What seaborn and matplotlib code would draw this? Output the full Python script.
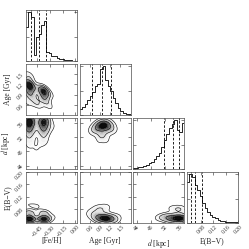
import numpy as np
import pandas as pd
import seaborn as sns
import matplotlib.pyplot as plt

sns.set_style("ticks")
plt.rcParams['font.family'] = ['Liberation Serif', 'DejaVu Serif']
plt.rcParams['mathtext.fontset'] = 'stix'

# --- parameters -----------------------------------------------------------
labels = ["[Fe/H]", "Age [Gyr]", "$d$ [kpc]", "E(B\u2212V)"]
ranges = [(-0.58, 0.02), (0.3, 1.8), (43.0, 57.5), (0.035, 0.20)]
ticks = [[-0.45, -0.30, -0.15, 0.00],
         [0.6, 0.9, 1.2, 1.5],
         [44, 48, 52, 56],
         [0.08, 0.12, 0.16, 0.20]]

# 1D marginal histograms (20 bins across each range), relative heights
feh_counts = [0.70, 1.00, 0.90, 0.12, 0.50, 0.55, 0.75, 0.82, 0.20, 0.18,
              0.10, 0.10, 0.06, 0.05, 0.04, 0.03, 0.03, 0.02, 0.01, 0.01]
age_counts = [0.13, 0.17, 0.23, 0.32, 0.40, 0.47, 0.60, 0.64, 0.94, 1.00,
              0.72, 0.60, 0.50, 0.36, 0.25, 0.15, 0.09, 0.05, 0.03, 0.02]
dist_counts = [0.03, 0.03, 0.04, 0.05, 0.07, 0.09, 0.12, 0.15, 0.20, 0.27,
               0.33, 0.45, 0.60, 0.72, 0.85, 0.92, 1.00, 0.80, 0.75, 0.95]
ebv_counts = [0.85, 1.00, 0.95, 0.78, 0.68, 0.55, 0.42, 0.30, 0.22, 0.17,
              0.12, 0.10, 0.07, 0.05, 0.04, 0.03, 0.03, 0.02, 0.02, 0.02]
hist_counts = [feh_counts, age_counts, dist_counts, ebv_counts]

# 16/50/84 percent quantiles
quantiles = [[-0.525, -0.43, -0.345],
             [0.65, 0.96, 1.22],
             [51.6, 54.2, 56.1],
             [0.047, 0.060, 0.085]]

# 2D posterior clumps: (x, y, weight) for each panel
feh_age_x = [-0.54, -0.37, -0.54, -0.37, -0.54, -0.45, -0.30, -0.24, -0.56]
feh_age_y = [1.18, 1.00, 0.95, 0.78, 1.45, 0.65, 0.55, 0.85, 0.70]
feh_age_w = [1.00, 0.90, 0.50, 0.40, 0.25, 0.30, 0.15, 0.08, 0.20]

feh_dist_x = [-0.54, -0.37, -0.54, -0.37, -0.54, -0.37, -0.45, -0.25, -0.56]
feh_dist_y = [56.5, 56.5, 54.0, 54.0, 51.0, 51.0, 48.5, 55.0, 48.0]
feh_dist_w = [1.00, 0.90, 0.50, 0.45, 0.20, 0.20, 0.12, 0.10, 0.08]

feh_ebv_x = [-0.54, -0.37, -0.54, -0.37, -0.46, -0.28, -0.56]
feh_ebv_y = [0.048, 0.048, 0.068, 0.068, 0.090, 0.055, 0.095]
feh_ebv_w = [1.00, 0.90, 0.40, 0.35, 0.15, 0.15, 0.10]

age_dist_x = [1.00, 0.85, 1.15, 0.95, 0.70, 1.30, 0.80, 1.10]
age_dist_y = [55.5, 55.0, 55.0, 52.5, 54.0, 54.0, 50.0, 51.0]
age_dist_w = [1.00, 0.60, 0.60, 0.40, 0.30, 0.20, 0.10, 0.15]

age_ebv_x = [1.05, 0.85, 1.25, 0.90, 0.70, 1.10, 0.55, 1.45]
age_ebv_y = [0.050, 0.050, 0.050, 0.080, 0.070, 0.090, 0.060, 0.060]
age_ebv_w = [1.00, 0.50, 0.50, 0.30, 0.20, 0.15, 0.08, 0.10]

dist_ebv_x = [56.5, 54.0, 52.0, 56.0, 50.0, 53.5]
dist_ebv_y = [0.050, 0.050, 0.055, 0.080, 0.050, 0.085]
dist_ebv_w = [1.00, 0.60, 0.30, 0.30, 0.10, 0.10]

pairs = {
    (1, 0): (feh_age_x, feh_age_y, feh_age_w),
    (2, 0): (feh_dist_x, feh_dist_y, feh_dist_w),
    (3, 0): (feh_ebv_x, feh_ebv_y, feh_ebv_w),
    (2, 1): (age_dist_x, age_dist_y, age_dist_w),
    (3, 1): (age_ebv_x, age_ebv_y, age_ebv_w),
    (3, 2): (dist_ebv_x, dist_ebv_y, dist_ebv_w),
}
# kernel width factor per panel (first column needs narrower kernels)
bws = {(1, 0): 0.5, (2, 0): 0.5, (3, 0): 0.5,
       (2, 1): 0.7, (3, 1): 0.7, (3, 2): 0.7}

# corner-style sigma levels (0.5, 1, 1.5, 2 sigma) as seaborn iso-proportions
line_levels = [0.135, 0.325, 0.607, 0.882]
fill_levels = list(np.linspace(0.135, 1.0, 16))

fig, axes = plt.subplots(4, 4, figsize=(2.49, 2.49), dpi=100)
fig.subplots_adjust(left=0.104, right=0.956, bottom=0.104, top=0.96,
                    wspace=0.05, hspace=0.05)

n = 4
for i in range(n):
    for j in range(n):
        ax = axes[i, j]
        if j > i:
            ax.set_frame_on(False)
            ax.set_xticks([])
            ax.set_yticks([])
            continue

        if i == j:
            lo, hi = ranges[i]
            nb = len(hist_counts[i])
            step = (hi - lo) / nb
            hdf = pd.DataFrame({"x": [lo + step * (k + 0.5) for k in range(nb)],
                                "w": hist_counts[i]})
            sns.histplot(data=hdf, x="x", weights="w", bins=nb,
                         binrange=(lo, hi), element="step", fill=False,
                         color="k", linewidth=0.6, ax=ax)
            for q in quantiles[i]:
                ax.axvline(q, ls=(0, (3, 2)), color="k", lw=0.6)
            ax.set_ylim(0, 1.05 * max(hist_counts[i]))
            ax.set_yticklabels([])
            ax.set_ylabel("")
        else:
            px, py, pw = pairs[(i, j)]
            df = pd.DataFrame({"x": px, "y": py, "w": pw})
            bw = bws[(i, j)]
            sns.kdeplot(data=df, x="x", y="y", weights="w", bw_method=bw,
                        fill=True, levels=fill_levels, cmap="Greys", ax=ax)
            sns.kdeplot(data=df, x="x", y="y", weights="w", bw_method=bw,
                        levels=line_levels, colors="k", linewidths=0.4, ax=ax)
            ax.set_ylim(ranges[i])
            ax.set_yticks(ticks[i])
            if j == 0:
                ax.set_ylabel(labels[i], fontsize=5.5)
                ax.yaxis.set_label_coords(-0.27, 0.5)
                for t in ax.get_yticklabels():
                    t.set_rotation(45)
            else:
                ax.set_yticklabels([])
                ax.set_ylabel("")

        ax.set_xlim(ranges[j])
        ax.set_xticks(ticks[j])
        if i == n - 1:
            ax.set_xlabel(labels[j], fontsize=5.5)
            ax.xaxis.set_label_coords(0.5, -0.27)
            for t in ax.get_xticklabels():
                t.set_rotation(45)
        else:
            ax.set_xticklabels([])
            ax.set_xlabel("")

        ax.tick_params(direction="in", length=2, width=0.4, labelsize=4,
                       pad=1, top=True, right=True)
        for s in ax.spines.values():
            s.set_linewidth(0.5)
            s.set_color("0.3")

fig.savefig("out.png", dpi=100)
